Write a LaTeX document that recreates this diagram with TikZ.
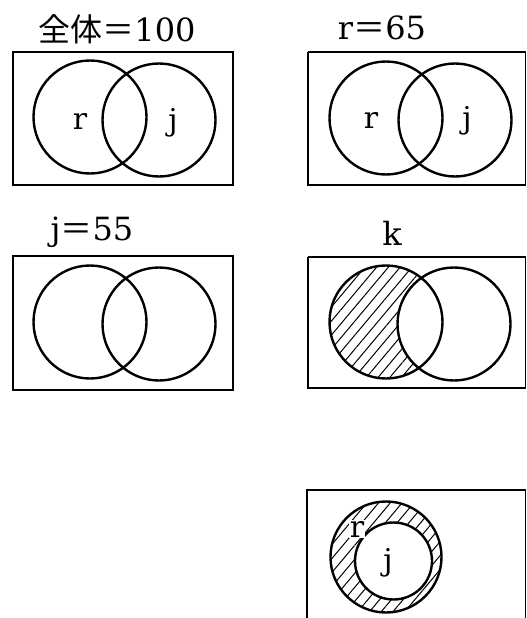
\documentclass[tikz,border=0pt]{standalone}
\usepackage{fontspec}
\setmainfont{DejaVu Serif}
\newfontfamily\cjk{Noto Sans CJK JP}
\usetikzlibrary{patterns.meta}
\tikzset{
  frame/.style={line width=2.1pt},
  ring/.style={line width=2.4pt},
  ttl/.style={font=\fontsize{32}{36}\selectfont, inner sep=0pt, anchor=base},
  lbl/.style={font=\fontsize{30}{34}\selectfont, inner sep=0pt, anchor=base},
  hatch/.style={pattern={Lines[angle=50,distance=9pt,line width=1pt]}},
}
\begin{document}
\begin{tikzpicture}[x=1pt,y=-1pt]
\useasboundingbox (0,0) rectangle (527,618);
\clip (0,0) rectangle (527,618);
% box 1
\draw[frame] (13,52) rectangle (233,185);
\draw[ring] (90,117) circle (56.5);
\draw[ring] (159,120) circle (56.5);
\node[ttl] (t1) at (117,42) {{\cjk 全体＝}100};
\node[lbl] (r1) at (80,129) {r};
\node[lbl] (j1) at (173,130) {j};
% box 2
\draw[frame] (308,52) -- (308,185) -- (526,185);
\draw[frame] (308,52) -- (526,52);
\draw[line width=1pt] (525,52) -- (525,185);
\draw[ring] (386,118) circle (56.5);
\draw[ring] (455,120) circle (56.5);
\node[ttl] (t2) at (382,40) {r{\cjk ＝}65};
\node[lbl] (r2) at (371,128) {r};
\node[lbl] (j2) at (467,128) {j};
% box 3
\draw[frame] (13,256) rectangle (233,390);
\draw[ring] (90,322) circle (56.5);
\draw[ring] (159,324) circle (56.5);
\node[ttl] (t3) at (92,240) {j{\cjk ＝}55};
% box 4
\begin{scope}
  \clip (386,322) circle (56.5);
  \path[hatch, even odd rule] (386,322) circle (56.5) (454,324) circle (56.5);
\end{scope}
\draw[frame] (308,257) -- (308,388) -- (526,388);
\draw[frame] (308,257) -- (526,257);
\draw[line width=1pt] (525,257) -- (525,388);
\draw[ring] (386,322) circle (56.5);
\draw[ring] (454,324) circle (56.5);
\node[ttl] (t4) at (392,245) {k};
% box 5
\path[hatch, even odd rule] (386,557) circle (55.5) (393.5,561) circle (38.5);
\draw[frame] (307,620) -- (307,490) -- (526,490);
\draw[line width=1pt] (525,490) -- (525,620);
\draw[ring] (386,557) circle (55.5);
\draw[ring] (393.5,561) circle (38.5);
\node[lbl, fill=white, inner sep=1pt] (r5) at (357,537) {r};
\node[lbl] (j5) at (388,570) {j};
\end{tikzpicture}
\end{document}
